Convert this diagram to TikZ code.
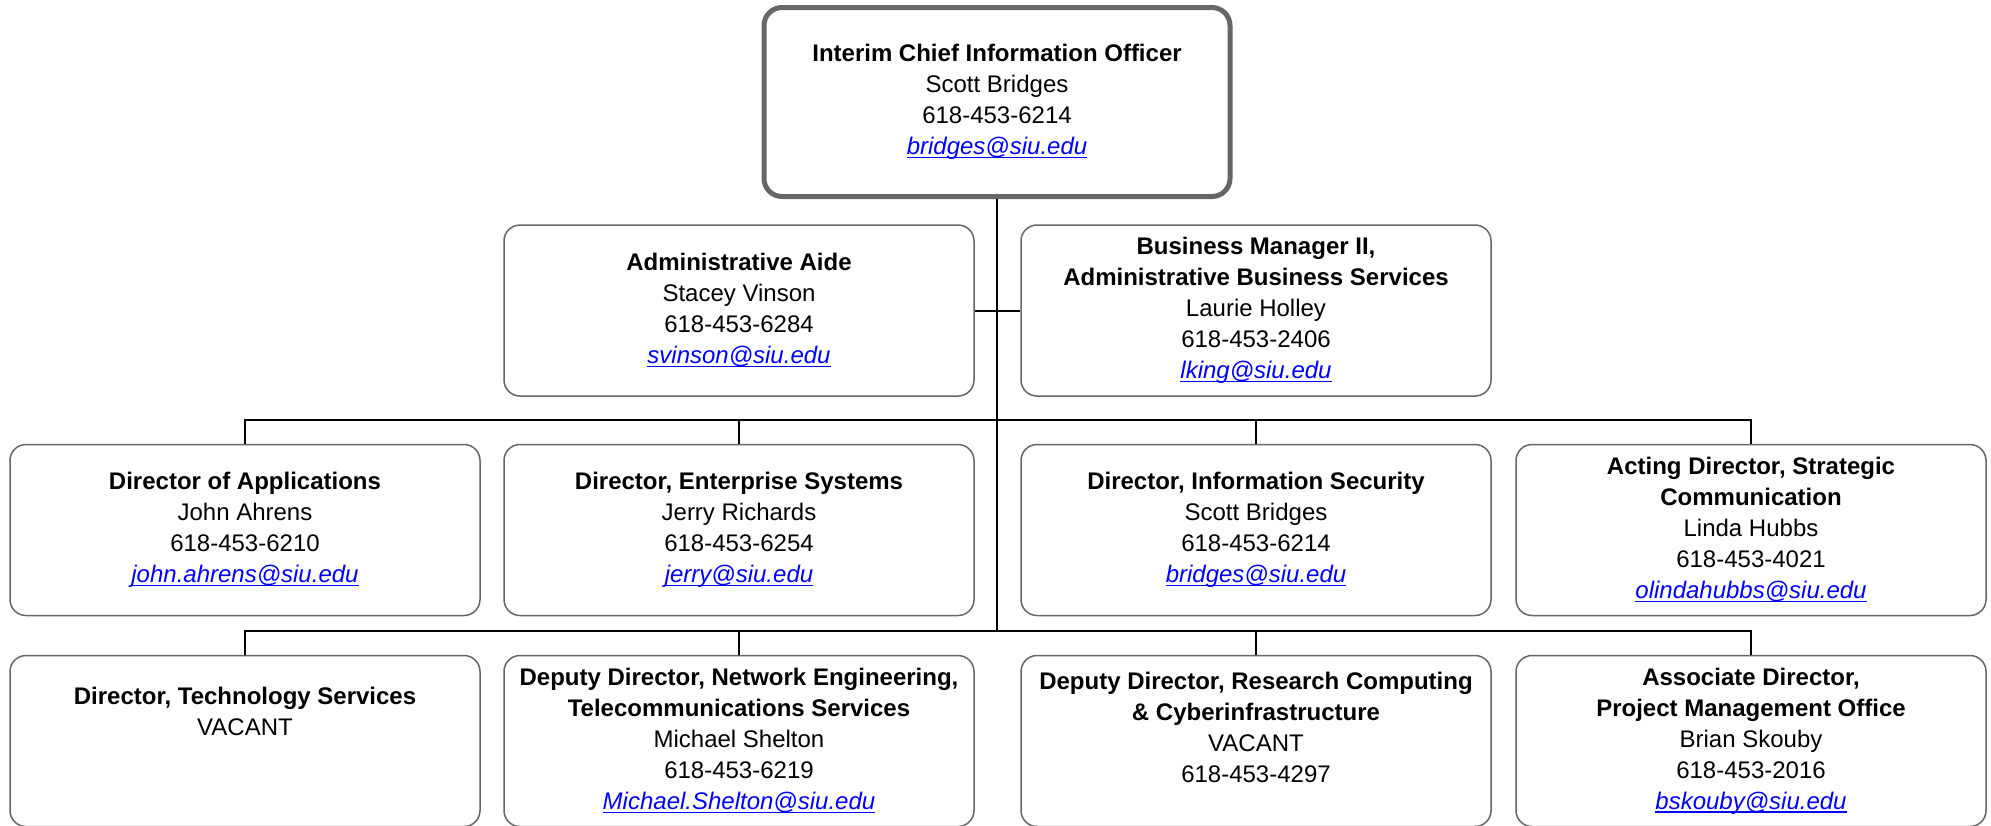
\documentclass[tikz,border=0pt]{standalone}
\usepackage{fontspec}
\setmainfont{Liberation Sans}
\usetikzlibrary{positioning}

\definecolor{boxgray}{HTML}{666666}
\definecolor{maillink}{HTML}{0000FF}
\newcommand{\mail}[1]{\textcolor{maillink}{\setbox0\hbox{\textit{#1}}%
\rlap{\rule[-3.5pt]{\wd0}{1.4pt}}\box0}}

\begin{document}
\begin{tikzpicture}[x=1pt,y=-1pt,
orgbox/.style={draw=boxgray, line width=1.5pt, rounded corners=16pt,
minimum width=470pt, minimum height=171pt, inner sep=0pt,
align=center, font=\fontsize{24}{31}\selectfont},
chief/.style={orgbox, line width=5pt, rounded corners=18pt,
minimum width=466pt, minimum height=189pt},
link/.style={line width=2pt}]
\useasboundingbox (0,0) rectangle (1991,825);
\clip (0,0) rectangle (1991,825);

% top
\node[chief] (cio) at (997,102)
{\textbf{Interim Chief Information Officer}\\Scott Bridges\\618-453-6214\\\mail{bridges@siu.edu}};

% staff
\node[orgbox] (aide) at (739,310.5)
{\textbf{Administrative Aide}\\Stacey Vinson\\618-453-6284\\\mail{svinson@siu.edu}};
\node[orgbox] (bizmgr) at (1256,310.5)
{\textbf{Business Manager II,}\\\textbf{Administrative Business Services}\\Laurie Holley\\618-453-2406\\\mail{lking@siu.edu}};

% directors
\node[orgbox] (apps) at (245,530)
{\textbf{Director of Applications}\\John Ahrens\\618-453-6210\\\mail{john.ahrens@siu.edu}};
\node[orgbox] (ent) at (739,530)
{\textbf{Director, Enterprise Systems}\\Jerry Richards\\618-453-6254\\\mail{jerry@siu.edu}};
\node[orgbox] (sec) at (1256,530)
{\textbf{Director, Information Security}\\Scott Bridges\\618-453-6214\\\mail{bridges@siu.edu}};
\node[orgbox] (strat) at (1751,530)
{\textbf{Acting Director, Strategic}\\\textbf{Communication}\\Linda Hubbs\\618-453-4021\\\mail{olindahubbs@siu.edu}};

% deputies
\node[orgbox] (tech) at (245,741)
{\textbf{Director, Technology Services}\\VACANT\\[-12pt]\strut\\\strut};
\node[orgbox] (net) at (739,741)
{\textbf{Deputy Director, Network Engineering,}\\\textbf{Telecommunications Services}\\Michael Shelton\\618-453-6219\\\mail{Michael.Shelton@siu.edu}};
\node[orgbox] (rcc) at (1256,741)
{\textbf{Deputy Director, Research Computing}\\\textbf{\& Cyberinfrastructure}\\VACANT\\618-453-4297\\[-12pt]\strut};
\node[orgbox] (pmo) at (1751,741)
{\textbf{Associate Director,}\\\textbf{Project Management Office}\\Brian Skouby\\618-453-2016\\\mail{bskouby@siu.edu}};

% lines
\coordinate (hub) at (997,631);
\draw[link] (cio.south) -- (hub);
\draw[link] (aide.east) -- (bizmgr.west);
\draw[link] (apps.north) -- ++(0,-24) -| (strat.north);
\draw[link] (ent.north) -- ++(0,-24);
\draw[link] (sec.north) -- ++(0,-24);
\draw[link] (tech.north) -- ++(0,-24) -| (pmo.north);
\draw[link] (net.north) -- ++(0,-24);
\draw[link] (rcc.north) -- ++(0,-24);
\end{tikzpicture}
\end{document}
